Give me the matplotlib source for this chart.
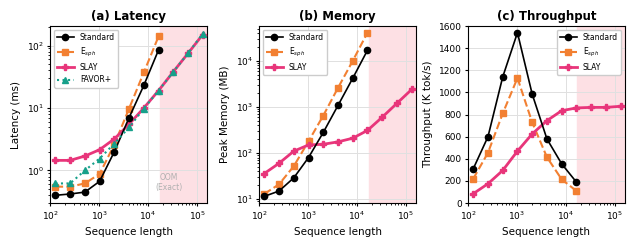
import matplotlib.pyplot as plt
import numpy as np

# Data
seq_len = [128, 256, 512, 1024, 2048, 4096, 8192, 16384, 32768, 65536, 131072]
n_exact = 8  # Standard / E_sph only run up to 16K

lat_standard = [0.40, 0.42, 0.45, 0.67, 2.0, 7.0, 23, 85]
lat_esph = [0.55, 0.55, 0.62, 0.88, 2.6, 9.8, 37, 140]
lat_slay = [1.45, 1.45, 1.7, 2.15, 3.2, 5.5, 10, 19, 38, 75, 150]
lat_favor = [0.62, 0.62, 1.0, 1.55, 2.7, 4.9, 9.8, 19, 38, 75, 155]

mem_standard = [11.5, 15, 29, 80, 280, 1080, 4200, 17000]
mem_esph = [13, 21, 52, 180, 650, 2600, 10000, 41000]
mem_slay = [36, 60, 110, 150, 155, 175, 210, 310, 600, 1200, 2400]

thr_standard = [310, 600, 1140, 1540, 985, 580, 355, 190]
thr_esph = [220, 455, 810, 1130, 730, 415, 215, 110]
thr_slay = [85, 175, 295, 470, 625, 745, 835, 860, 865, 865, 875]

c_std = 'black'
c_esph = '#f28032'
c_slay = '#e8357a'
c_favor = '#16a08a'

plt.rcParams['font.size'] = 7
fig = plt.figure(figsize=(6.35, 2.48), dpi=100)
lefts = [0.079, 0.408, 0.737]
axes = [fig.add_axes([l, 0.181, 0.247, 0.714]) for l in lefts]

x_exact = seq_len[:n_exact]


def style(ax, title, ylabel):
    ax.set_xscale('log')
    ax.set_xlim(100, 160000)
    ax.axvspan(16384 * 1.05, 160000, color='#fde0e4', alpha=1.0, zorder=0)
    ax.grid(True, which='major', color='#e0e0e0', linewidth=0.7, zorder=0)
    ax.set_axisbelow(True)
    ax.set_title(title, fontweight='bold', fontsize=8.5, pad=4)
    ax.set_xlabel('Sequence length', fontsize=7.5)
    ax.set_ylabel(ylabel, fontsize=7.5)
    ax.tick_params(labelsize=6.5, length=2.5, pad=2)
    ax.tick_params(which='minor', length=1.5)


ms = 4.5
# (a) Latency
ax = axes[0]
ax.plot(x_exact, lat_standard, '-o', color=c_std, lw=1.2, ms=ms, label='Standard', zorder=4)
ax.plot(x_exact, lat_esph, '--s', color=c_esph, lw=1.5, ms=ms, label=r'E$_{sph}$', zorder=3)
ax.plot(seq_len, lat_slay, '-P', color=c_slay, lw=2.0, ms=ms, label='SLAY', zorder=3)
ax.plot(seq_len, lat_favor, ':^', color=c_favor, lw=1.5, ms=ms, label='FAVOR+', zorder=4)
ax.set_yscale('log')
ax.set_ylim(0.3, 205)
style(ax, '(a) Latency', 'Latency (ms)')
ax.text(27000, 0.64, 'OOM\n(Exact)', ha='center', va='center', fontsize=5.5, color='#b0b0b0')
ax.legend(loc='upper left', fontsize=5.5, framealpha=1, edgecolor='#cccccc', handlelength=2.2)

# (b) Memory
ax = axes[1]
ax.plot(x_exact, mem_standard, '-o', color=c_std, lw=1.2, ms=ms, label='Standard', zorder=4)
ax.plot(x_exact, mem_esph, '--s', color=c_esph, lw=1.5, ms=ms, label=r'E$_{sph}$', zorder=3)
ax.plot(seq_len, mem_slay, '-P', color=c_slay, lw=2.0, ms=ms, label='SLAY', zorder=3)
ax.set_yscale('log')
ax.set_ylim(8.2, 57000)
style(ax, '(b) Memory', 'Peak Memory (MB)')
ax.legend(loc='upper left', fontsize=5.5, framealpha=1, edgecolor='#cccccc', handlelength=2.2)

# (c) Throughput
ax = axes[2]
ax.plot(x_exact, thr_standard, '-o', color=c_std, lw=1.2, ms=ms, label='Standard', zorder=4)
ax.plot(x_exact, thr_esph, '--s', color=c_esph, lw=1.5, ms=ms, label=r'E$_{sph}$', zorder=3)
ax.plot(seq_len, thr_slay, '-P', color=c_slay, lw=2.0, ms=ms, label='SLAY', zorder=3)
ax.set_ylim(0, 1600)
ax.set_yticks(np.arange(0, 1601, 200))
style(ax, '(c) Throughput', 'Throughput (K tok/s)')
ax.legend(loc='upper right', fontsize=5.5, framealpha=1, edgecolor='#cccccc', handlelength=2.2)

fig.savefig('out.png', dpi=100)
